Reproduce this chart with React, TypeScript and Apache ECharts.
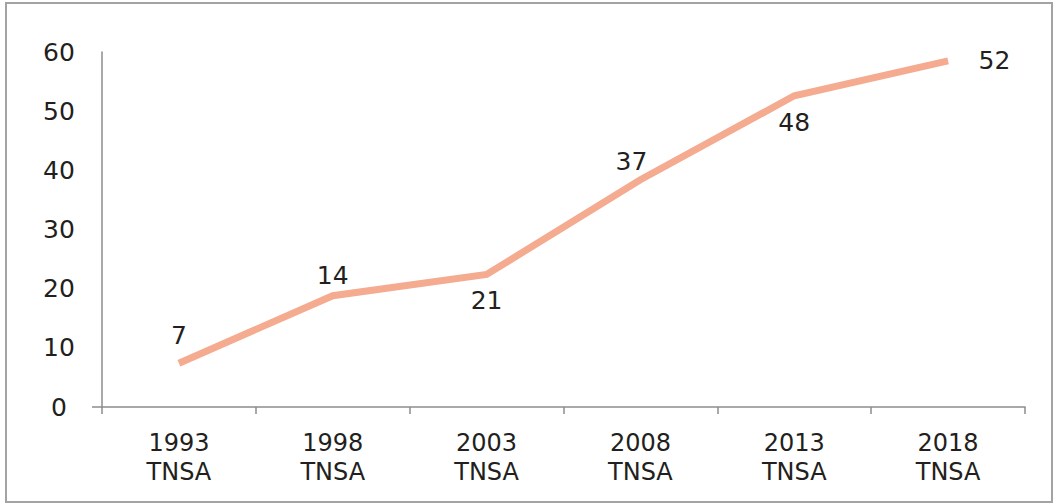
import React, { useEffect, useRef } from "react";
import * as echarts from "echarts";

const categories = ["1993\nTNSA", "1998\nTNSA", "2003\nTNSA", "2008\nTNSA", "2013\nTNSA", "2018\nTNSA"];
const values = [7.4, 18.8, 22.4, 38.4, 52.6, 58.5];
const labelTexts = ["7", "14", "21", "37", "48", "52"];
const yTicks = [0, 10, 20, 30, 40, 50, 60];

const labelPlacement: any[] = [
  { position: "top", distance: 15, offset: [0, 0] },
  { position: "top", distance: 7, offset: [0, 0] },
  { position: "bottom", distance: 13, offset: [0, 0] },
  { position: "top", distance: 5, offset: [-9, 0] },
  { position: "bottom", distance: 14, offset: [0, 0] },
  { position: "right", distance: 30, offset: [0, 0] },
];

export default function App() {
  const ref = useRef<HTMLDivElement>(null);
  useEffect(() => {
    if (!ref.current) return;
    const chart = echarts.init(ref.current, null, { renderer: "svg" });
    const font = "DejaVu Sans";
    const textColor = "#231f20";
    chart.setOption({
      animation: false,
      backgroundColor: "#ffffff",
      grid: { left: 102, right: 31, top: 52, bottom: 97 },
      xAxis: {
        type: "category",
        data: categories,
        boundaryGap: true,
        axisLine: { show: true, lineStyle: { color: "#8c8c8c", width: 1.5 } },
        axisTick: { show: true, length: 7, lineStyle: { color: "#8c8c8c", width: 1.5 } },
        axisLabel: {
          color: textColor,
          fontFamily: font,
          fontSize: 24,
          lineHeight: 29,
          margin: 21,
        },
      },
      yAxis: {
        type: "value",
        min: yTicks[0],
        max: yTicks[yTicks.length - 1],
        interval: 10,
        axisLine: { show: true, lineStyle: { color: "#8c8c8c", width: 1.5 } },
        axisTick: { show: false },
        splitLine: { show: false },
        axisLabel: {
          color: textColor,
          fontFamily: font,
          fontSize: 25,
          align: "center",
          margin: 43,
        },
      },
      series: [
        {
          type: "line",
          data: values.map((v, i) => ({
            value: v,
            label: {
              show: true,
              formatter: labelTexts[i],
              position: labelPlacement[i].position,
              distance: labelPlacement[i].distance,
              offset: labelPlacement[i].offset,
            },
          })),
          symbol: "circle",
          symbolSize: 1,
          itemStyle: { color: "rgba(0,0,0,0)" },
          lineStyle: { color: "#f4ab8f", width: 7, cap: "butt", join: "miter" },
          label: {
            show: true,
            color: textColor,
            fontFamily: font,
            fontSize: 25,
          },
        },
      ],
      graphic: [
        {
          type: "rect",
          shape: { x: 6, y: 3, width: 1046, height: 499 },
          style: { fill: "none", stroke: "#a3a3a3", lineWidth: 2 },
          silent: true,
        },
        {
          type: "line",
          shape: { x1: 92, y1: 407, x2: 102, y2: 407 },
          style: { stroke: "#8c8c8c", lineWidth: 1.5 },
          silent: true,
        },
      ],
    });
    return () => chart.dispose();
  }, []);
  return (
    <div
      ref={ref}
      style={{ position: "absolute", left: 0, top: 0, width: 1056, height: 504 }}
    />
  );
}
